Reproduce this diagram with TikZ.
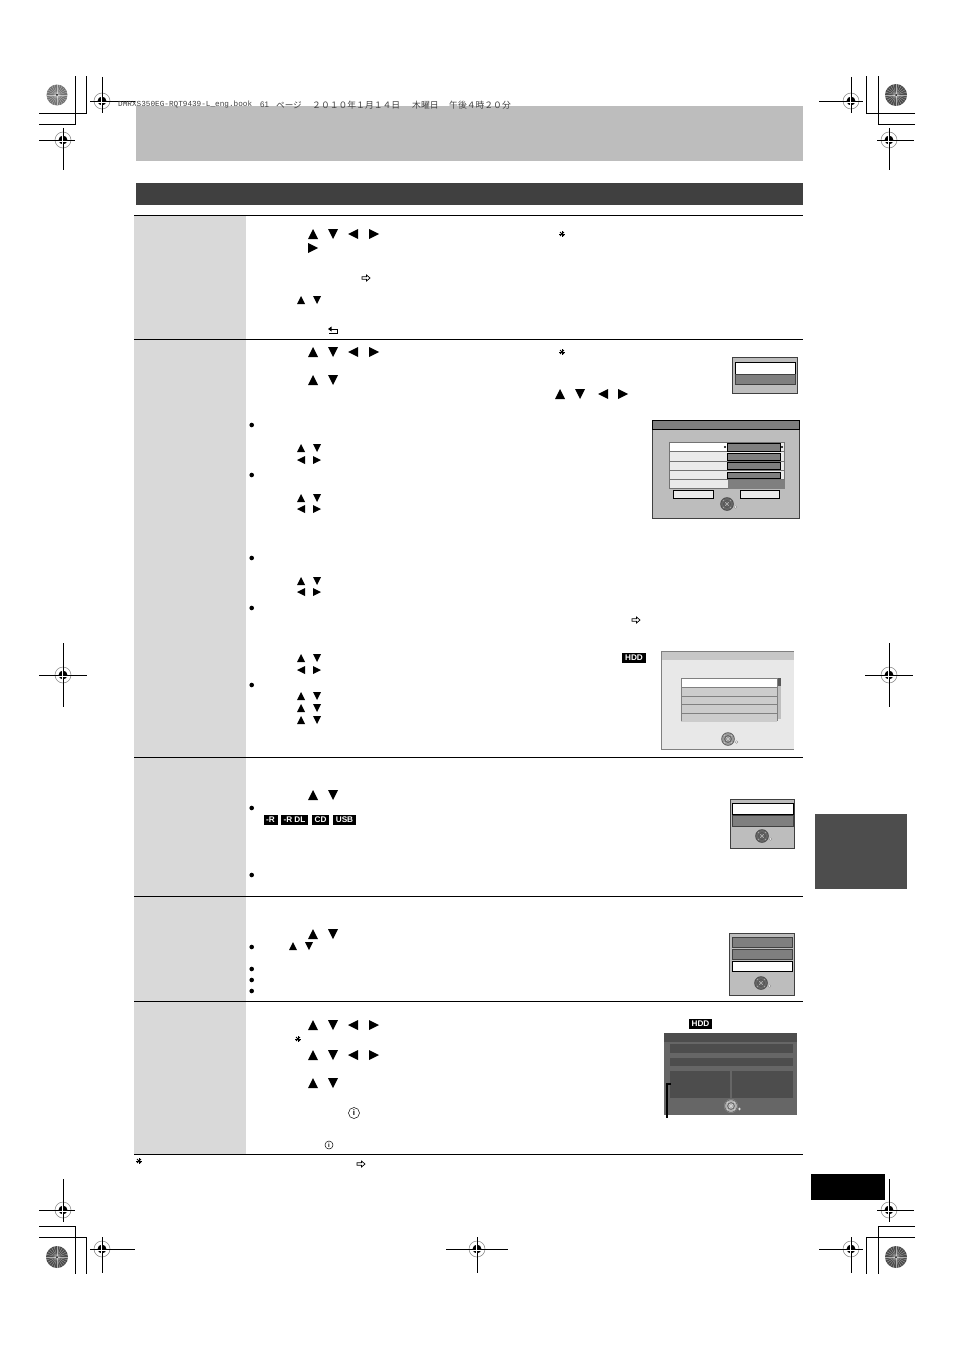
\documentclass[tikz,border=0pt]{standalone}
\usepackage{fontspec}
\setmainfont{Liberation Sans}
\setmonofont{Liberation Mono}
\newfontfamily\jpfont{Noto Sans CJK JP}
\definecolor{bandgrey}{HTML}{BDBDBD}
\definecolor{cellgrey}{HTML}{D9D9D9}
\definecolor{darkband}{HTML}{404040}
\definecolor{tabgrey}{HTML}{4D4D4D}
\definecolor{rowgrey}{HTML}{7F7F7F}
\tikzset{
  rule/.style = {line width=0.9pt, black},
  cropline/.style = {line width=0.8pt, black},
  screen/.style = {fill=bandgrey, draw=darkband, line width=0.9pt},
  rowon/.style = {fill=white, draw=black, line width=0.9pt},
  rowoff/.style = {fill=rowgrey, draw=darkband, line width=0.9pt},
  badge/.style = {fill=black, text=white, inner sep=0pt, font=\fontsize{8.2}{8}\selectfont\bfseries},
  headtext/.style = {anchor=west, inner sep=0pt, text=black!75}
}
% arrows, x y half-size
\newcommand{\triup}[3]{\fill[shift={(#1,#2)},scale=#3] (-1,1) -- (1,1) -- (0,-1) -- cycle;}
\newcommand{\tridown}[3]{\fill[shift={(#1,#2)},scale=#3] (-1,-1) -- (1,-1) -- (0,1) -- cycle;}
\newcommand{\trileft}[3]{\fill[shift={(#1,#2)},scale=#3] (1,-1) -- (1,1) -- (-1,0) -- cycle;}
\newcommand{\triright}[3]{\fill[shift={(#1,#2)},scale=#3] (-1,-1) -- (-1,1) -- (1,0) -- cycle;}
\newcommand{\fourbig}[1]{\triup{313}{#1}{5}\tridown{333}{#1}{5}\trileft{353}{#1}{5}\triright{374}{#1}{5}}
\newcommand{\updownsmall}[1]{\triup{301}{#1}{4}\tridown{317}{#1}{4}}
\newcommand{\leftrightsmall}[1]{\trileft{301}{#1}{4}\triright{317}{#1}{4}}
% reg mark, x y left right up down
\newcommand{\regmark}[6]{
  \draw[gray, line width=0.5pt] (#1,#2) circle (8);
  \fill[black] (#1,#2) circle (4.4);
  \draw[white, line width=0.5pt] (#1-5,#2+0.8) -- (#1+5,#2+0.8) (#1-0.8,#2-5) -- (#1-0.8,#2+5);
  \draw[cropline] (#1-#3,#2) -- (#1-4,#2) (#1+4,#2) -- (#1+#4,#2);
  \draw[cropline] (#1,#2-#5) -- (#1,#2-4) (#1,#2+4) -- (#1,#2+#6);
}
% spoked disc, x y radius fill
\newcommand{\spokedisc}[4]{
  \fill[#4] (#1,#2) circle (#3);
  \foreach \a in {0,15,...,345}{
    \draw[white, line width=0.3pt, opacity=0.55] (#1,#2) -- ++(\a:#3);
  }
  \fill[black] (#1,#2) circle (1);
}
% control wheel, x y fill
\newcommand{\wheel}[3]{
  \fill[#3] (#1,#2) circle (6.8);
  \foreach \a in {45,135,225,315}{
    \draw[white, line width=0.4pt, opacity=0.5] (#1,#2) -- ++(\a:6.5);
  }
  \draw[black!70, line width=0.6pt] (#1,#2) circle (3.4);
  \draw[black!75, line width=0.4pt] (#1,#2) circle (6.3);
  \fill[white, draw=gray, line width=0.3pt] (#1+8.5,#2+3) circle (1.3);
}
\newcommand{\hollowarrow}[2]{
  \draw[line width=0.7pt, shift={(#1,#2)}] (-4,-1.3) -- (0.5,-1.3) -- (0.5,-3) -- (4,0) -- (0.5,3) -- (0.5,1.3) -- (-4,1.3) -- cycle;
}
% info mark, x y radius fontsize
\newcommand{\infomark}[4]{
  \draw[line width=0.5pt] (#1,#2) circle (#3);
  \node[inner sep=0pt, font=\fontsize{#4}{#4}\selectfont\bfseries] (info#1) at (#1,#2) {i};
}
\newcommand{\starmark}[2]{
  \foreach \a in {0,45,90,135}{
    \draw[line width=0.9pt, shift={(#1,#2)}] (\a:-2.8) -- (\a:2.8);
  }
}
\begin{document}
\begin{tikzpicture}[x=1pt,y=-1pt]
\useasboundingbox[fill=white] (0,0) rectangle (954,1351);

% page bands
\fill[bandgrey] (136,106) rectangle (803,161);
\fill[darkband] (136,183) rectangle (803,205);
\fill[cellgrey] (134,215) rectangle (246,1154);
\fill[tabgrey] (815,814) rectangle (907,889);
\fill[black] (811,1174) rectangle (885,1200);
\foreach \y in {215.5,339.5,757,896,1001,1154.5}{
  \draw[rule] (134,\y) -- (803,\y);
}

% crop corners
\draw[cropline] (39,124) -- (75,124) -- (75,76);
\draw[cropline] (39,113) -- (86,113) -- (86,76);
\draw[cropline] (915,113) -- (866,113) -- (866,76);
\draw[cropline] (915,124) -- (878,124) -- (878,76);
\draw[cropline] (39,1226) -- (75,1226) -- (75,1274);
\draw[cropline] (39,1237) -- (86,1237) -- (86,1274);
\draw[cropline] (915,1237) -- (866,1237) -- (866,1274);
\draw[cropline] (915,1226) -- (878,1226) -- (878,1274);

\regmark{102}{101}{12}{33}{24}{12}
\regmark{63}{140}{24}{12}{12}{30}
\regmark{851}{101}{32}{12}{24}{12}
\regmark{889}{140}{12}{25}{12}{30}
\regmark{63}{675}{24}{24}{32}{32}
\regmark{889}{675}{24}{24}{32}{32}
\regmark{63}{1210}{24}{12}{31}{12}
\regmark{889}{1210}{12}{25}{31}{12}
\regmark{102}{1249}{12}{33}{12}{24}
\regmark{477}{1249}{31}{31}{12}{24}
\regmark{851}{1249}{32}{12}{12}{24}

\spokedisc{57}{95}{10.5}{black!55}
\spokedisc{896}{95}{11}{black!70}
\spokedisc{57}{1257}{11}{black!70}
\spokedisc{896}{1257}{11}{black!70}

% running head
\node[headtext, font=\ttfamily\fontsize{7.7}{8}\selectfont] (bookname) at (118,105) {DMRXS350EG-RQT9439-L\_eng.book};
\node[headtext, font=\fontsize{8}{8}\selectfont] (pagenum) at (260,105) {61};
\node[headtext, font=\jpfont\fontsize{8.6}{9}\selectfont] (pageword) at (276,105) {ページ};
\node[headtext, font=\jpfont\fontsize{8.8}{9}\selectfont] (dateword) at (312,105) {２０１０年１月１４日};
\node[headtext, font=\jpfont\fontsize{8.8}{9}\selectfont] (dayword) at (412,105) {木曜日};
\node[headtext, font=\jpfont\fontsize{8.8}{9}\selectfont] (timeword) at (449,105) {午後４時２０分};

% row 1
\fourbig{234}
\triright{313}{248}{5}
\starmark{562}{234}
\hollowarrow{366}{278}
\updownsmall{300}
\draw[line width=0.7pt] (329,333) -- (337,333) -- (337,329) -- (329,329);
\fill (331.5,326.5) -- (331.5,331.5) -- (328,329) -- cycle;

% row 2
\fourbig{352}
\starmark{562}{352}
\triup{313}{380}{5}\tridown{333}{380}{5}
\triup{560}{394}{5}\tridown{580}{394}{5}\trileft{603}{394}{5}\triright{623}{394}{5}
\foreach \y in {425,475,558,608,685}{
  \fill (251.7,\y) circle (2.3);
}
\foreach \y in {448,498,581,658,696,708,720}{
  \updownsmall{\y}
}
\foreach \y in {460,509,592,670}{
  \leftrightsmall{\y}
}
\hollowarrow{636}{620}
\node[badge, minimum width=24, minimum height=10] (hddfirst) at (634,658) {HDD};

% row 3
\triup{313}{795}{5}\tridown{333}{795}{5}
\foreach \y in {808,875}{
  \fill (251.7,\y) circle (2.3);
}
\node[badge, minimum width=14, minimum height=10] (discr) at (270.5,820) {-R};
\node[badge, minimum width=27, minimum height=10] (discrdl) at (294.5,820) {-R DL};
\node[badge, minimum width=17, minimum height=10] (disccd) at (320.5,820) {CD};
\node[badge, minimum width=23, minimum height=10] (discusb) at (344.5,820) {USB};

% row 4
\triup{313}{934}{5}\tridown{333}{934}{5}
\triup{293}{946}{4}\tridown{309}{946}{4}
\foreach \y in {947,969,980,991}{
  \fill (251.7,\y) circle (2.3);
}

% row 5
\fourbig{1025}
\starmark{298}{1039}
\fourbig{1055}
\triup{313}{1083}{5}\tridown{333}{1083}{5}
\infomark{354}{1113}{5.5}{8}
\infomark{329}{1145}{4}{6}
\starmark{139}{1161}
\hollowarrow{361}{1164}

% screen 1
\draw[screen] (732,357) rectangle (797,393);
\draw[rowon] (735,362) rectangle (795,374);
\draw[rowoff] (735,374) rectangle (795,384.5);

% screen 2
\draw[screen] (652.5,420) rectangle (799,518);
\draw[fill=rowgrey, draw=black, line width=0.7pt] (652.5,420) rectangle (799.5,429.5);
\foreach \y/\h in {442/451.5,451.5/461,461.5/470,470.5/479,479.5/488.5}{
  \draw[fill=black!8, draw=black!55, line width=1pt] (669,\y) rectangle (784,\h);
}
\fill[white] (669.5,442.5) rectangle (727,451);
\foreach \y/\h in {443/451,453/460,462.5/469.5,472/478}{
  \draw[fill=rowgrey, draw=black, line width=0.7pt] (727,\y) rectangle (780,\h);
}
\fill[rowgrey] (728,480) rectangle (784.5,488.5);
\fill (725,447) circle (1.2);
\fill (782,447) circle (1.2);
\draw[fill=black!8, draw=black, line width=0.5pt] (673,490) rectangle (713,498.5);
\draw[fill=black!8, draw=black, line width=0.5pt] (740,490) rectangle (779.5,498.5);
\wheel{727}{504}{black!60}

% screen 3
\fill[black!9] (661,651) rectangle (794,749);
\fill[black!22] (661,651) rectangle (794,660);
\draw[gray, line width=0.8pt] (794,651) -- (661,651) -- (661,749) -- (794,749);
\fill[white] (681,678) rectangle (777,687);
\foreach \y in {687,696,704.5,713}{
  \fill[black!20] (681,\y) rectangle (777,\y+8.5);
  \draw[gray, line width=0.7pt] (681,\y) -- (777,\y);
}
\draw[gray, line width=0.7pt] (681,721) -- (681,678) -- (777,678) -- (777,721);
\fill[black!25] (778,678) rectangle (781,719);
\fill[black!65] (778,678) rectangle (781,686);
\wheel{728}{739}{black!40}

% screen 4
\draw[screen] (730,799) rectangle (794,848);
\draw[rowon] (732.5,803) rectangle (793,814);
\draw[rowoff] (732.5,815) rectangle (793,826);
\wheel{762}{836}{black!60}

% screen 5
\draw[screen] (729.5,933) rectangle (794,995);
\draw[rowoff] (732.5,937) rectangle (792,947);
\draw[rowoff] (732.5,949) rectangle (792,959);
\draw[rowon] (732.5,961) rectangle (792,971);
\wheel{761}{983}{black!60}

% screen 6
\node[badge, minimum width=23, minimum height=10] (hddsecond) at (700.5,1024) {HDD};
\fill[black!60] (664,1033) rectangle (797,1115);
\fill[tabgrey] (664,1033) rectangle (797,1042);
\fill[tabgrey] (670,1044) rectangle (793,1053);
\fill[tabgrey] (670,1058) rectangle (793,1066);
\fill[tabgrey] (670,1071) rectangle (730,1098);
\fill[tabgrey] (732,1071) rectangle (793,1098);
\wheel{731}{1106}{black!30}
\coordinate (leadtop) at (671,1084);
\coordinate (leadbend) at (667,1084);
\coordinate (leadend) at (667,1118);
\draw[line width=1.2pt] (leadtop) -- (leadbend) -- (leadend);
\end{tikzpicture}
\end{document}
